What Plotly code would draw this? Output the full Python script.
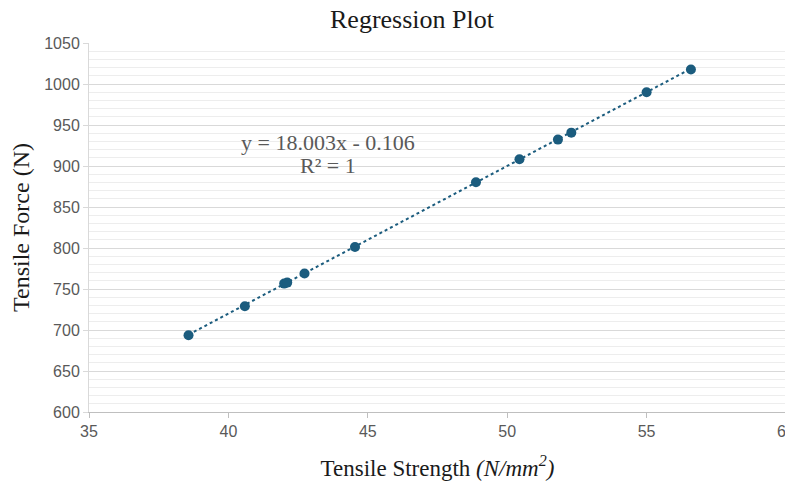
import plotly.graph_objects as go
import numpy as np

strength = [38.57, 40.59, 42.0, 42.11, 42.73, 44.54, 48.88, 50.44, 51.82, 52.30, 55.0, 56.59]
force = [693.5, 729.0, 756.6, 757.8, 768.8, 801.2, 880.1, 908.2, 932.2, 940.7, 989.9, 1017.6]
slope, intercept = 18.003, -0.106
x_ticks = [35, 40, 45, 50, 55, 60]
y_ticks = [600, 650, 700, 750, 800, 850, 900, 950, 1000, 1050]

color = "#1b5c7e"
xs = np.array([min(strength), max(strength)])

# page body has an 8px margin, so the figure is sized to fit the 793x481 window
W, H = 785, 473
OFF = 8

fig = go.Figure()
fig.add_trace(go.Scatter(x=xs, y=slope * xs + intercept, mode="lines",
                         line=dict(color=color, width=2, dash="dot"), hoverinfo="skip"))
fig.add_trace(go.Scatter(x=strength, y=force, mode="markers",
                         marker=dict(color=color, size=10)))

fig.update_layout(
    width=W, height=H,
    margin=dict(l=89 - OFF, r=W - (786 - OFF), t=43 - OFF, b=H - (412 - OFF)),
    paper_bgcolor="white", plot_bgcolor="white",
    showlegend=False,
    title=dict(text="Regression Plot", x=(412 - OFF) / W, xanchor="center",
               y=1 - (19 - OFF) / H, yanchor="middle",
               font=dict(family="Liberation Serif", size=26, color="#1a1a1a")),
    font=dict(family="Liberation Sans", size=16, color="#595959"),
)
fig.update_xaxes(range=[35, 60], tickvals=x_ticks, showgrid=False, zeroline=False,
                 showline=True, linecolor="#bfbfbf", linewidth=1,
                 ticks="outside", ticklen=5, tickcolor="#bfbfbf",
                 ticklabeloverflow="allow", automargin=False,
                 tickfont=dict(size=16, color="#595959"),
                 title=dict(text="Tensile Strength <i>(N/mm<sup>2</sup>)</i>", standoff=20,
                            font=dict(family="Liberation Serif", size=23, color="#1a1a1a")))
fig.update_yaxes(range=[600, 1050], tickvals=y_ticks, showgrid=True, gridcolor="#d9d9d9",
                 gridwidth=1, zeroline=False,
                 showline=True, linecolor="#d9d9d9", linewidth=1,
                 ticks="outside", ticklen=5, tickcolor="#d9d9d9", automargin=False,
                 minor=dict(dtick=10, showgrid=True, gridcolor="#ededed", gridwidth=1),
                 tickfont=dict(size=16, color="#595959"),
                 title=dict(text="Tensile Force (N)", standoff=12,
                            font=dict(family="Liberation Serif", size=24, color="#1a1a1a")))

pw, ph = 697, 369
ax_x = (328 - 89) / pw
fig.add_annotation(x=ax_x, y=1 - (142 - 43) / ph, xref="paper", yref="paper",
                   xanchor="center", yanchor="middle",
                   text="y = 18.003x - 0.106", showarrow=False,
                   font=dict(family="Liberation Serif", size=22, color="#595959"))
fig.add_annotation(x=ax_x, y=1 - (165 - 43) / ph, xref="paper", yref="paper",
                   xanchor="center", yanchor="middle",
                   text="R² = 1", showarrow=False,
                   font=dict(family="Liberation Serif", size=22, color="#595959"))

fig.write_html("out.html")
